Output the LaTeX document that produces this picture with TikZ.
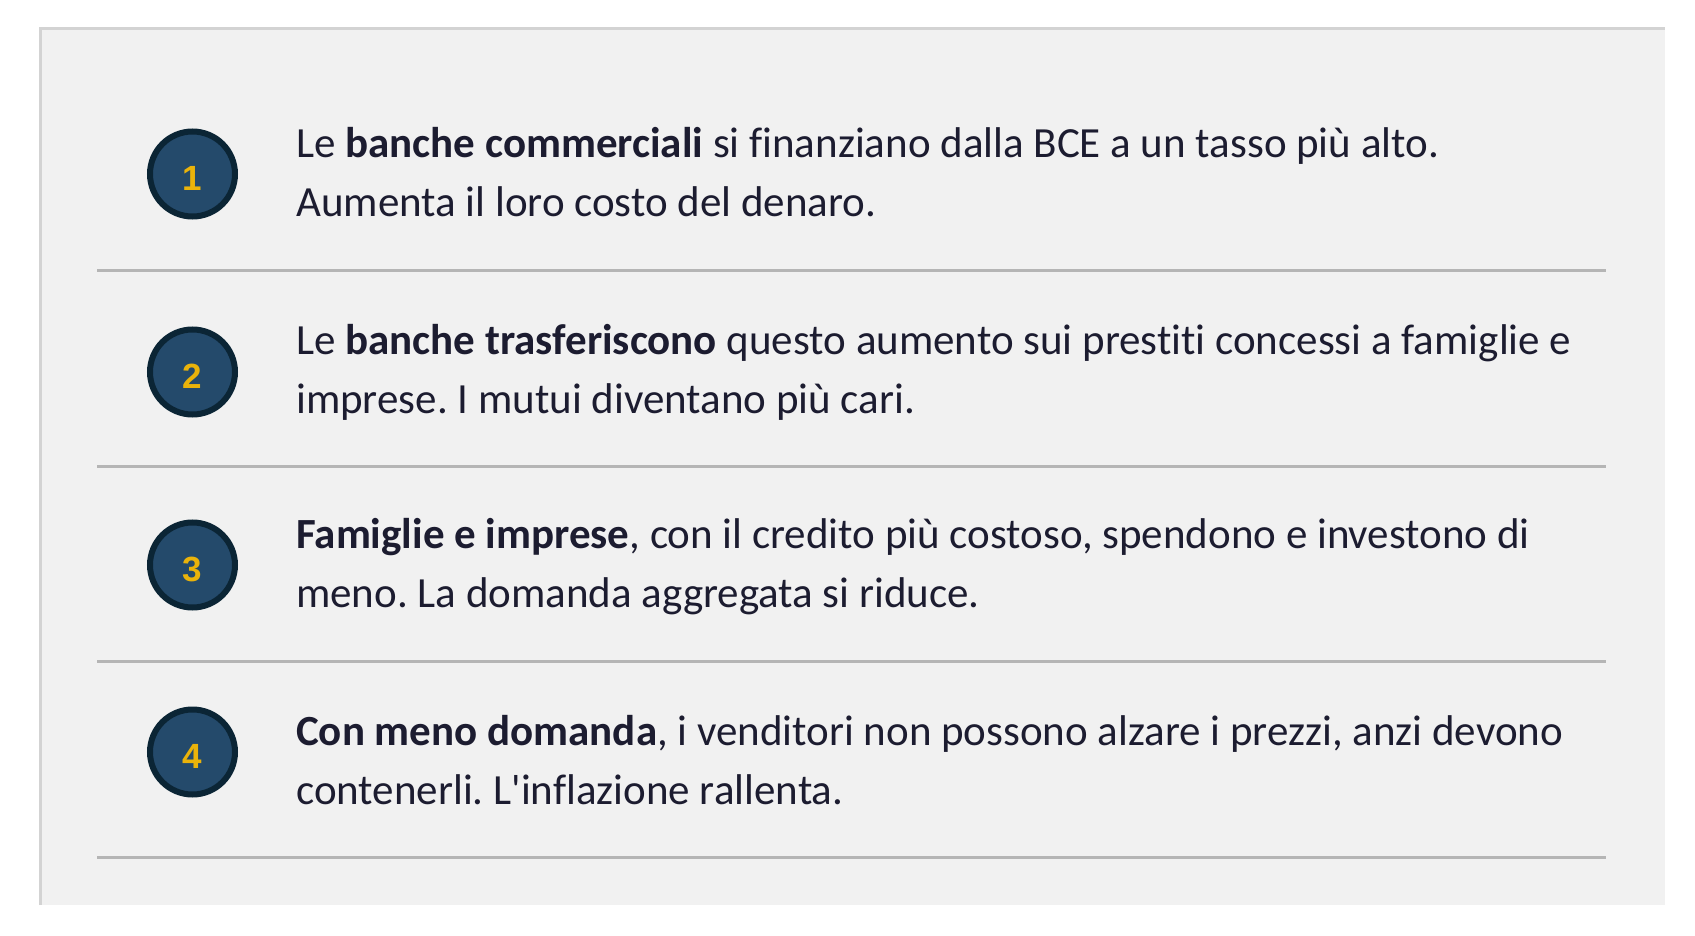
\documentclass[tikz,border=0pt]{standalone}
\usepackage{fontspec}
\newfontfamily\carlito[Ligatures={TeXOff,NoCommon}]{Carlito}
\newfontfamily\numfont{Liberation Sans}
\definecolor{panelfill}{HTML}{F1F1F1}
\definecolor{panelborder}{HTML}{D3D3D3}
\definecolor{sepcol}{HTML}{B5B5B5}
\definecolor{circfill}{HTML}{244A6B}
\definecolor{circborder}{HTML}{0B2535}
\definecolor{gold}{HTML}{EAB30A}
\definecolor{textcol}{HTML}{1C1C30}
\frenchspacing
\begin{document}
\begin{tikzpicture}[x=1pt,y=-1pt,
  stepnum/.style={circle, draw=circborder, fill=circfill, line width=6pt,
    minimum size=85pt, inner sep=0pt, text=gold,
    text height=33.5pt, text depth=0pt,
    font=\numfont\bfseries\fontsize{35}{35}\selectfont},
  desc/.style={anchor=base west, align=left, inner sep=0pt, text=textcol,
    font=\carlito\frenchspacing\fontsize{43}{59}\selectfont},
  sepline/.style={draw=sepcol, line width=3pt}]
\useasboundingbox (0,0) rectangle (1695,936);
\fill[panelfill] (39,27) rectangle (1665,905);
\draw[panelborder, line width=3pt] (40.5,905) -- (40.5,28.5) -- (1665,28.5);

\node[stepnum] (c1) at (192.5,174) {1};
\node[stepnum] (c2) at (192.5,372) {2};
\node[stepnum] (c3) at (192.5,565) {3};
\node[stepnum] (c4) at (192.5,752) {4};

% anchor is the baseline of the last (second) line
\node[desc] (t1) at (296,217) {Le \textbf{banche commerciali} si finanziano dalla BCE a un tasso più alto.\\Aumenta il loro costo del denaro.};
\node[desc] (t2) at (296,413) {Le \textbf{banche trasferiscono} questo aumento sui prestiti concessi a famiglie e\\imprese. I mutui diventano più cari.};
\node[desc] (t3) at (296,607) {\textbf{Famiglie e imprese}, con il credito più costoso, spendono e investono di\\meno. La domanda aggregata si riduce.};
\node[desc] (t4) at (296,804) {\textbf{Con meno domanda}, i venditori non possono alzare i prezzi, anzi devono\\contenerli. L'inflazione rallenta.};

\coordinate (s1a) at (97,270); \coordinate (s1b) at (1606,270);
\coordinate (s2a) at (97,466); \coordinate (s2b) at (1606,466);
\coordinate (s3a) at (97,661); \coordinate (s3b) at (1606,661);
\coordinate (s4a) at (97,857); \coordinate (s4b) at (1606,857);
\draw[sepline] (s1a) -- (s1b);
\draw[sepline] (s2a) -- (s2b);
\draw[sepline] (s3a) -- (s3b);
\draw[sepline] (s4a) -- (s4b);
\end{tikzpicture}
\end{document}
